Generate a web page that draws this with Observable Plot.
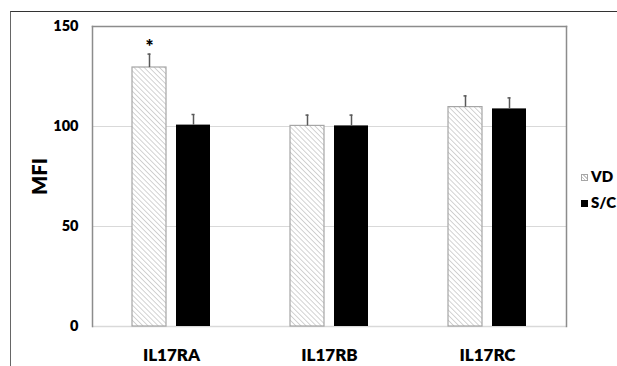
<!DOCTYPE html>
<html><head><meta charset="utf-8">
<script src="https://cdn.jsdelivr.net/npm/d3@7"></script>
<script src="https://cdn.jsdelivr.net/npm/@observablehq/plot@0.6"></script>
<style>
body{margin:0;background:#fff;overflow:hidden;}
#wrap{position:relative;width:617px;height:366px;overflow:hidden;font-family:Lato,"Open Sans",sans-serif;color:#000;}
#frame{position:absolute;left:10px;top:11px;width:620px;height:370px;border-top:1.5px solid #333;border-left:1.5px solid #666;box-sizing:border-box;}
#chart{position:absolute;left:0;top:0;}
#legend{position:absolute;left:581px;top:163px;font-weight:800;font-size:15px;white-space:nowrap;}
#legend .row{height:26px;line-height:26px;display:flex;align-items:center;}
#legend .sw{display:inline-block;width:7px;height:7px;margin-right:3px;margin-top:2px;box-sizing:border-box;}
#legend .sw.hatch{border:1px solid #a6a6a6;background:repeating-linear-gradient(45deg,#fff 0 1.5px,#c8c8c8 1.5px 2.5px);}
#legend .sw.solid{background:#000;}
g[aria-label="y-axis label"] text{font-size:20px;font-weight:800;}
</style>
</head><body>
<div id="wrap"><div id="frame"></div><div id="chart"></div><div id="legend"></div></div>
<script>
const categories = ["IL17RA","IL17RB","IL17RC"];
const groups = ["VD","S/C"];
const vdMean = [129.5, 100.3, 109.7];
const vdErr = [6.7, 5.4, 5.6];
const scMean = [100.7, 100.3, 108.8];
const scErr = [5.3, 5.4, 5.5];
const vdSig = ["*","",""];
const yTicks = [0, 50, 100, 150];

const rows = [];
categories.forEach((c,i)=>{
  rows.push({cat:c, group:groups[0], mean:vdMean[i], err:vdErr[i], sig:vdSig[i]});
  rows.push({cat:c, group:groups[1], mean:scMean[i], err:scErr[i], sig:""});
});

const svg = Plot.plot({
  width:617, height:366,
  marginLeft:91, marginRight:50, marginTop:26, marginBottom:40,
  style:{fontFamily:"Lato, 'Open Sans', sans-serif", color:"#000", background:"transparent"},
  fx:{domain:categories, padding:0, label:null},
  x:{domain:groups, paddingInner:0.222, paddingOuter:0.874, axis:null},
  y:{domain:[0,150], label:"MFI"},
  marks:[
    Plot.gridY([50,100], {stroke:"#d9d9d9", strokeOpacity:1, strokeWidth:1.2}),
    Plot.ruleY([0], {stroke:"#d9d9d9", strokeWidth:1.5}),
    Plot.barY(rows, {filter:d=>d.group===groups[0], fx:"cat", x:"group", y:"mean", fill:"url(#hatch)", stroke:"#a6a6a6", strokeWidth:1.2}),
    Plot.barY(rows, {filter:d=>d.group===groups[1], fx:"cat", x:"group", y:"mean", fill:"#000"}),
    Plot.ruleX(rows, {fx:"cat", x:"group", y1:"mean", y2:d=>d.mean+d.err, stroke:"#595959", strokeWidth:1.5}),
    Plot.tickY(rows, {fx:"cat", x:"group", y:d=>d.mean+d.err, insetLeft:15.5, insetRight:15.5, stroke:"#595959", strokeWidth:1.5}),
    Plot.text(rows, {filter:d=>d.sig, fx:"cat", x:"group", y:d=>d.mean+d.err, text:"sig", dy:-7, fontSize:19, fontWeight:800}),
    Plot.frame({anchor:"left", facet:"super", stroke:"#8c8c8c", strokeWidth:1.5}),
    Plot.frame({anchor:"top", facet:"super", stroke:"#8c8c8c", strokeWidth:1.5}),
    Plot.frame({anchor:"right", facet:"super", stroke:"#8c8c8c", strokeWidth:1.5}),
    Plot.axisY(yTicks, {tickSize:0, tickPadding:14, fontSize:14.5, fontWeight:800, label:"MFI", labelAnchor:"center", labelArrow:"none", labelOffset:60}),
    Plot.axisFx({anchor:"bottom", tickSize:0, tickPadding:22, fontSize:17, fontWeight:800, label:null})
  ]
});
svg.insertAdjacentHTML("afterbegin",
  '<defs><pattern id="hatch" patternUnits="userSpaceOnUse" width="3.6" height="3.6" patternTransform="rotate(45)">' +
  '<rect width="3.6" height="3.6" fill="#fff"/><line x1="0" y1="0" x2="3.6" y2="0" stroke="#c8c8c8" stroke-width="1.6"/></pattern></defs>');
document.getElementById("chart").appendChild(svg);

const legend = document.getElementById("legend");
groups.forEach((g,i)=>{
  const row = document.createElement("div");
  row.className = "row";
  const sw = document.createElement("span");
  sw.className = "sw " + (i===0 ? "hatch" : "solid");
  row.appendChild(sw);
  row.appendChild(document.createTextNode(g));
  legend.appendChild(row);
});
</script>
</body></html>
